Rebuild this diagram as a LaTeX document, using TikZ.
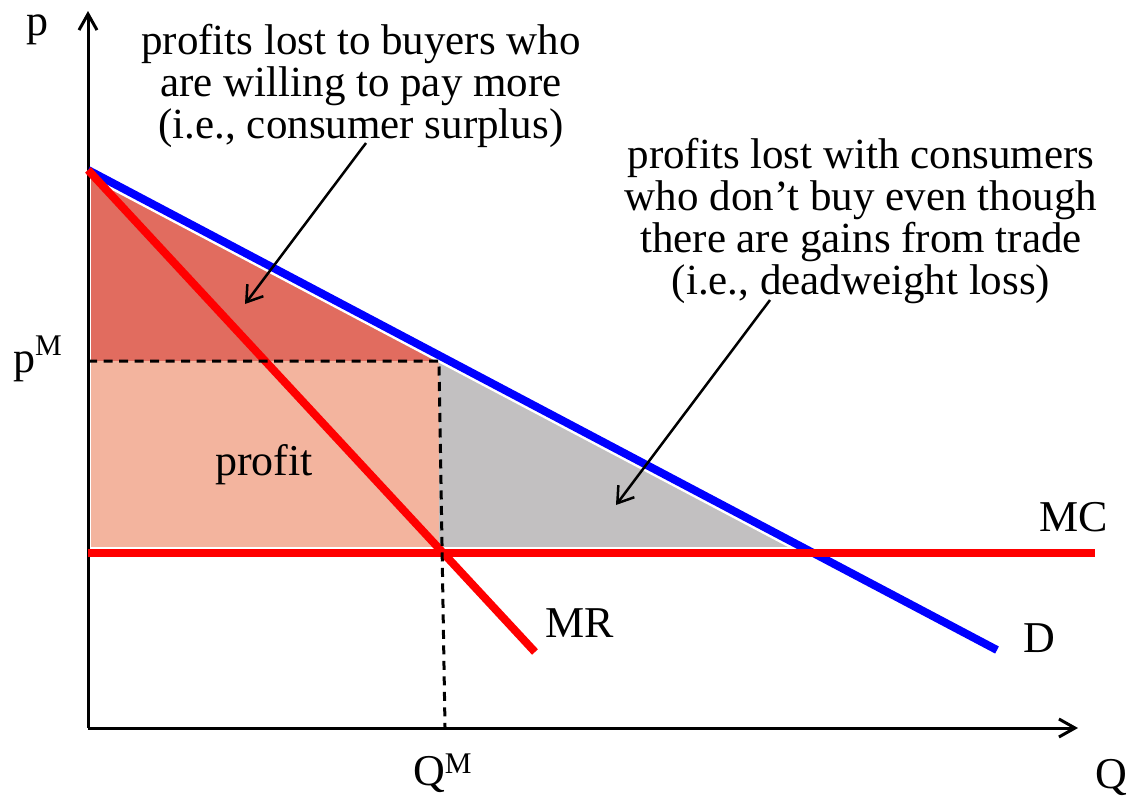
\documentclass[tikz,border=0pt]{standalone}
\usepackage{fontspec}
\setmainfont{Liberation Serif}
\usetikzlibrary{arrows.meta}
\definecolor{csfill}{HTML}{E16C5F}
\definecolor{profitfill}{HTML}{F3B49E}
\definecolor{dwlfill}{HTML}{C2C0C1}
\begin{document}
\begin{tikzpicture}[x=1pt,y=-1pt,
  axis/.style={line width=3pt,-{Straight Barb[length=16pt,width=18pt]}},
  curve/.style={line width=8pt},
  halo/.style={white,line width=13pt},
  dashline/.style={line width=3pt,dash pattern=on 9pt off 6.5pt},
  note/.style={align=center,font=\fontsize{43}{42}\selectfont,inner sep=0pt},
  lbl/.style={font=\fontsize{44}{50}\selectfont,inner sep=0pt},
  suplbl/.style={font=\fontsize{30}{30}\selectfont},
  pointer/.style={line width=2.5pt,-{Straight Barb[length=15pt,width=20pt]}}]
\useasboundingbox (0,0) rectangle (1130,798);
% key points
\coordinate (O) at (88,728);
\coordinate (ytip) at (88,11);
\coordinate (xtip) at (1078,728);
\coordinate (Dtop) at (88,170);
\coordinate (Dend) at (997,650);
\coordinate (MRend) at (535,652);
\coordinate (MCl) at (88,553);
\coordinate (MCr) at (1095,553);
\coordinate (pm) at (88,361);
\coordinate (qmtop) at (439,361);
\coordinate (qmmc) at (439,553);
\coordinate (qmbot) at (445,727);
\coordinate (Dq) at (intersection of Dtop--Dend and qmtop--qmmc);
\coordinate (DMC) at (intersection of Dtop--Dend and MCl--MCr);
% areas
\fill[csfill] (Dtop) -- (pm) -- (qmtop) -- (Dq) -- cycle;
\fill[profitfill] (pm) rectangle (qmmc);
\fill[dwlfill] (Dq) -- (qmmc) -- (DMC) -- cycle;
% white gaps
\draw[halo] (Dtop) -- (Dend);
\draw[halo] (MCl) -- (MCr);
\draw[white,line width=6pt] (O) -- (Dtop);
% axes
\draw[axis] (O) -- (ytip);
\draw[axis] (O) -- (xtip);
% curves
\draw[curve,blue] (Dtop) -- (Dend);
\draw[curve,red] (MCl) -- (MCr);
\draw[curve,red] (Dtop) -- (MRend);
% guides
\draw[dashline] (pm) -- (qmtop) -- (qmbot);
% labels
\node[lbl,anchor=base] (plab) at (38,35) {p};
\node[lbl,anchor=base west] (pmlab) at (13,372) {p\raisebox{17pt}{\fontsize{30}{30}\selectfont M}};
\node[lbl,anchor=base west] (qmlab) at (413,785) {Q\raisebox{12pt}{\fontsize{30}{30}\selectfont M}};
\node[lbl,anchor=base west] (qlab) at (1095,788) {Q};
\node[lbl,anchor=base west] (mclab) at (1039,531) {MC};
\node[lbl,anchor=base west] (dlab) at (1023,652) {D};
\node[lbl,anchor=base west] (mrlab) at (545,637) {MR};
\node[lbl,anchor=base] (proflab) at (264,475) {profit};
% notes
\node[note,anchor=north] (csnote) at (361,24) {profits lost to buyers who\\are willing to pay more\\(i.e., consumer surplus)};
\node[note,anchor=north] (dwlnote) at (861,138) {profits lost with consumers\\who don’t buy even though\\there are gains from trade\\(i.e., deadweight loss)};
\coordinate (csfrom) at (366,143);
\coordinate (cstip) at (245,304);
\coordinate (dwlfrom) at (770,300);
\coordinate (dwltip) at (616,505);
\draw[pointer] (csfrom) -- (cstip);
\draw[pointer] (dwlfrom) -- (dwltip);
\end{tikzpicture}
\end{document}
